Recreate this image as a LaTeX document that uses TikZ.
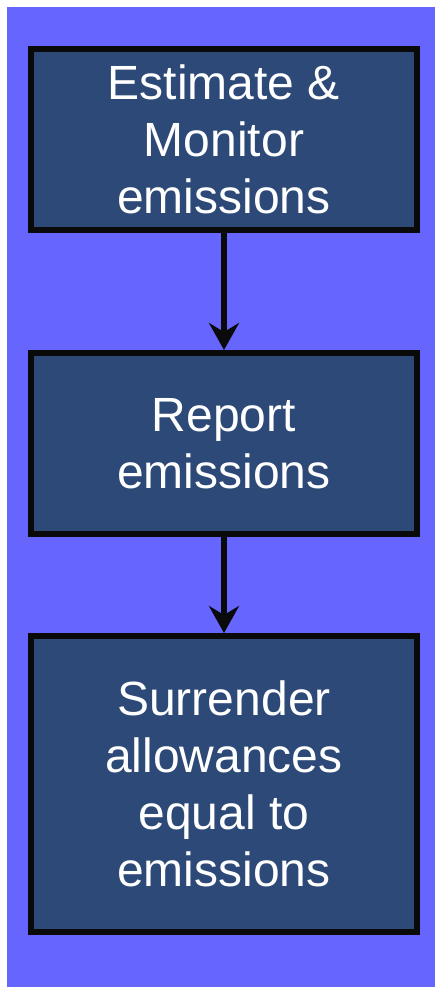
\documentclass[tikz,border=0pt]{standalone}
\usepackage{fontspec}
\setmainfont{Liberation Sans}
\usetikzlibrary{arrows.meta}
\definecolor{panelblue}{HTML}{6666FF}
\definecolor{boxfill}{HTML}{2C4977}
\definecolor{edgeblack}{HTML}{0A0A0A}
\begin{document}
\begin{tikzpicture}[x=1pt,y=1pt,
  stagebox/.style={draw=edgeblack, line width=6pt, fill=boxfill,
    minimum width=386pt, text=white, align=center, inner sep=0pt,
    font=\fontsize{48}{57}\selectfont},
  flow/.style={draw=edgeblack, line width=6pt,
    -{Stealth[length=27pt,width=30pt,inset=9pt]}}]
  \useasboundingbox (0,0) rectangle (435,-987);
  % background panel
  \fill[panelblue] (7,-7) rectangle (435,-987);
  % process stages
  \node[stagebox, minimum height=181pt] (est) at (224,-139.5)
    {Estimate \&\\Monitor\\emissions};
  \node[stagebox, minimum height=181pt] (rep) at (224,-443.5)
    {Report\\emissions};
  \node[stagebox, minimum height=296pt] (sur) at (224,-784)
    {Surrender\\allowances\\equal to\\emissions};
  % connectors
  \draw[flow] (est.south) -- (rep.north);
  \draw[flow] (rep.south) -- (sur.north);
\end{tikzpicture}
\end{document}
